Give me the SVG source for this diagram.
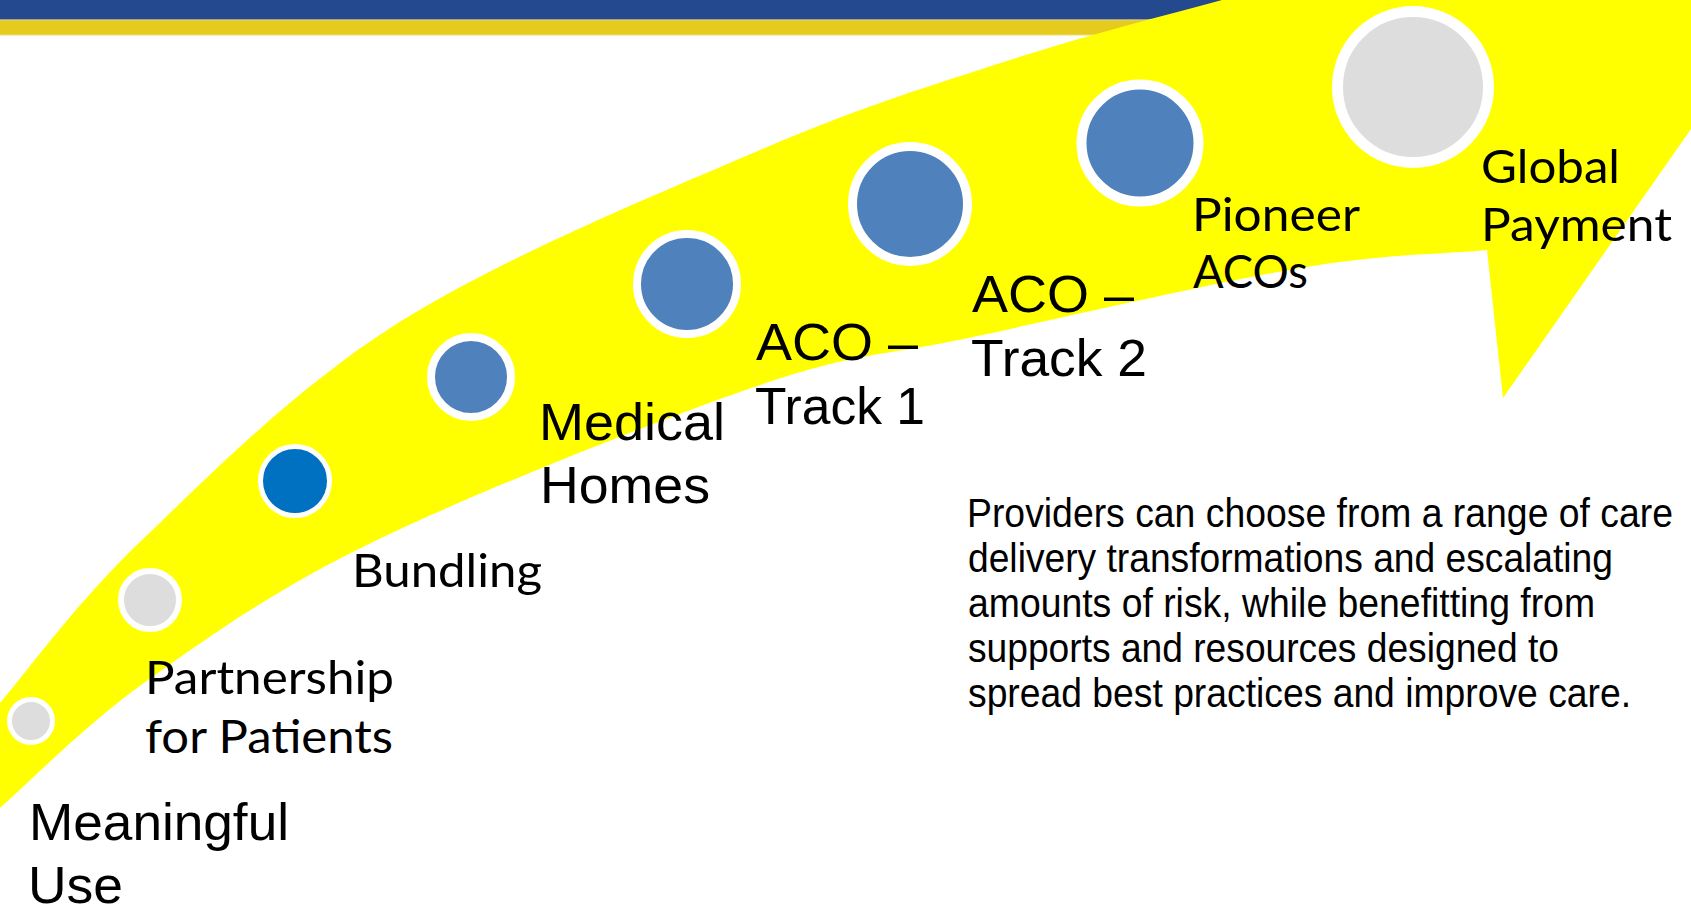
<svg xmlns="http://www.w3.org/2000/svg" width="1691" height="909" viewBox="0 0 1691 909">
  <style>
    .arial { font-family: "Liberation Sans", Arial, sans-serif; fill: #000; }
    .cal { font-family: Lato, "Open Sans", sans-serif; fill: #000; }
    .big { font-size: 52px; }
    .lbl { font-size: 47px; }
    .para { font-size: 40px; }
    .dot { stroke: #FFFFFF; }
    .gray { fill: #DDDDDD; }
    .steel { fill: #4F81BD; }
    .bright { fill: #0070C0; }
  </style>
  <rect x="0" y="0" width="1691" height="909" fill="#FFFFFF"/>
  <g id="header">
    <rect x="0" y="0" width="1691" height="19" fill="#25498E"/>
    <rect x="0" y="19" width="1691" height="1.5" fill="#A9A27A"/>
    <rect x="0" y="20.5" width="1691" height="14.5" fill="#E6CB1F"/>
    <rect x="0" y="34.5" width="1691" height="1" fill="#EEDC70"/>
  </g>
  <g id="connectors">
    <path id="arrow" fill="#FFFF00" d="M -10,817 L 0,808 C 33,778.8 85.2,724.7 148,680 C 210.8,635.3 275,589.2 377,540 C 479,490.8 660.7,418.8 760,385 C 859.3,351.2 883,356.5 973,337 C 1063,317.5 1214.3,282.5 1300,268 C 1385.7,253.5 1437,254.7 1487,250 L 1503,398 L 1830,-70 L 1400,-70 L 1222,0 C 1157,17.5 1087,35 1010,60 C 933,85 862,106.2 760,150 C 658,193.8 501,258 398,323 C 295,388 208.3,476.7 142,540 C 75.7,603.3 30.3,667.7 0,703 L -10,716 Z"/>
  </g>
  <g id="node-meaningful-use">
    <circle class="dot gray" cx="31" cy="721" r="21.5" stroke-width="5"/>
    <text class="arial big" x="29" y="840" textLength="260" lengthAdjust="spacingAndGlyphs">Meaningful</text>
    <text class="arial big" x="28" y="903" textLength="95" lengthAdjust="spacingAndGlyphs">Use</text>
  </g>
  <g id="node-partnership">
    <circle class="dot gray" cx="150" cy="600" r="29" stroke-width="6"/>
    <text class="cal lbl" x="145" y="694" textLength="249" lengthAdjust="spacingAndGlyphs">Partnership</text>
    <text class="cal lbl" x="145" y="753" textLength="248" lengthAdjust="spacingAndGlyphs">for Patients</text>
  </g>
  <g id="node-bundling">
    <circle class="dot bright" cx="295" cy="481" r="34.5" stroke-width="5"/>
    <text class="cal lbl" x="352" y="587" textLength="190" lengthAdjust="spacingAndGlyphs">Bundling</text>
  </g>
  <g id="node-medical-homes">
    <circle class="dot steel" cx="471" cy="377" r="40" stroke-width="8"/>
    <text class="arial big" x="539" y="440" textLength="186" lengthAdjust="spacingAndGlyphs">Medical</text>
    <text class="arial big" x="540" y="503" textLength="170" lengthAdjust="spacingAndGlyphs">Homes</text>
  </g>
  <g id="node-aco-track1">
    <circle class="dot steel" cx="687" cy="284" r="50" stroke-width="8"/>
    <text class="arial big" x="756" y="360" textLength="162" lengthAdjust="spacingAndGlyphs">ACO –</text>
    <text class="arial big" x="755" y="424" textLength="170" lengthAdjust="spacingAndGlyphs">Track 1</text>
  </g>
  <g id="node-aco-track2">
    <circle class="dot steel" cx="910" cy="204" r="57.5" stroke-width="9"/>
    <text class="arial big" x="972" y="312" textLength="162" lengthAdjust="spacingAndGlyphs">ACO –</text>
    <text class="arial big" x="971" y="376" textLength="176" lengthAdjust="spacingAndGlyphs">Track 2</text>
  </g>
  <g id="node-pioneer-acos">
    <circle class="dot steel" cx="1140" cy="143" r="58.5" stroke-width="10"/>
    <text class="cal lbl" x="1192" y="231" textLength="168" lengthAdjust="spacingAndGlyphs">Pioneer</text>
    <text class="cal lbl" x="1193" y="288" textLength="115" lengthAdjust="spacingAndGlyphs">ACOs</text>
  </g>
  <g id="node-global-payment">
    <circle class="dot gray" cx="1413" cy="87" r="75.5" stroke-width="11"/>
    <text class="cal lbl" x="1481" y="183" textLength="139" lengthAdjust="spacingAndGlyphs">Global</text>
    <text class="cal lbl" x="1481" y="241" textLength="191" lengthAdjust="spacingAndGlyphs">Payment</text>
  </g>
  <g id="description">
    <text class="arial para" x="967" y="527" textLength="706" lengthAdjust="spacingAndGlyphs">Providers can choose from a range of care</text>
    <text class="arial para" x="968" y="572" textLength="645" lengthAdjust="spacingAndGlyphs">delivery transformations and escalating</text>
    <text class="arial para" x="968" y="617" textLength="627" lengthAdjust="spacingAndGlyphs">amounts of risk, while benefitting from</text>
    <text class="arial para" x="968" y="662" textLength="591" lengthAdjust="spacingAndGlyphs">supports and resources designed to</text>
    <text class="arial para" x="968" y="707" textLength="663" lengthAdjust="spacingAndGlyphs">spread best practices and improve care.</text>
  </g>
</svg>
